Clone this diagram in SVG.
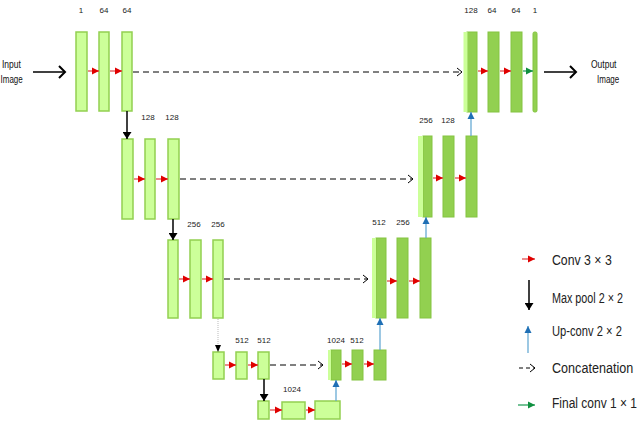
<svg xmlns="http://www.w3.org/2000/svg" width="640" height="425" viewBox="0 0 640 425">
<defs>
<style>
.lt{fill:#ccff99;stroke:#92d050;stroke-width:1.5}
.dk{fill:#92d050;stroke:#84c440;stroke-width:1}
.ls{fill:#ccff99;stroke:none}
.lb{font-family:"Liberation Sans",Arial,sans-serif;font-size:8px;fill:#222;text-anchor:middle}
.io{font-family:"Liberation Sans",Arial,sans-serif;font-size:10px;fill:#111}
.lg{font-family:"Liberation Sans",Arial,sans-serif;font-size:15px;fill:#222}
.red{stroke:#e04040;stroke-width:1.2;fill:none}
.blk{stroke:#000;stroke-width:1.5;fill:none}
.blu{stroke:#5ba3d0;stroke-width:1.2;fill:none}
.grn{stroke:#1a9a50;stroke-width:1.2;fill:none}
.dsh{stroke:#000;stroke-width:1;stroke-dasharray:6,4;fill:none}
</style>
<marker id="mr" markerUnits="userSpaceOnUse" markerWidth="8" markerHeight="8" refX="7" refY="4" orient="auto"><path d="M0,0.5 L7,4 L0,7.5 Z" fill="#e00000"/></marker>
<marker id="mk" markerUnits="userSpaceOnUse" markerWidth="8" markerHeight="9" refX="7" refY="4.5" orient="auto"><path d="M0,0 L7,4.5 L0,9 Z" fill="#000"/></marker>
<marker id="mb" markerUnits="userSpaceOnUse" markerWidth="8" markerHeight="8" refX="7" refY="4" orient="auto"><path d="M0,0.5 L7,4 L0,7.5 Z" fill="#1f6fb5"/></marker>
<marker id="mg" markerUnits="userSpaceOnUse" markerWidth="8" markerHeight="8" refX="7" refY="4" orient="auto"><path d="M0,0.5 L7,4 L0,7.5 Z" fill="#109040"/></marker>
<marker id="mc" markerUnits="userSpaceOnUse" markerWidth="8" markerHeight="10" refX="6" refY="5" orient="auto"><path d="M1,1 L6,5 L1,9" fill="none" stroke="#000" stroke-width="1"/></marker>
<marker id="mt" markerUnits="userSpaceOnUse" markerWidth="10" markerHeight="14" refX="8" refY="7" orient="auto"><path d="M2,1 L8,7 L2,13" fill="none" stroke="#000" stroke-width="2"/></marker>
</defs>
<rect width="640" height="425" fill="#fff"/>

<g id="input"><text class="io" transform="translate(2,68) scale(0.85,1)">Input</text><text class="io" transform="translate(0.5,83) scale(0.8,1)">Image</text></g>
<g id="output"><text class="io" transform="translate(591,68) scale(0.85,1)">Output</text><text class="io" transform="translate(597,83) scale(0.8,1)">Image</text></g>

<!-- Level 1 left -->
<g id="L1a"><rect class="lt" x="76" y="32" width="11" height="79"/><text class="lb" x="81" y="13">1</text></g>
<g id="L1b"><rect class="lt" x="99" y="32" width="10" height="79"/><text class="lb" x="104" y="13">64</text></g>
<g id="L1c"><rect class="lt" x="122" y="32" width="10" height="79"/><text class="lb" x="127" y="13">64</text></g>
<!-- Level 1 right -->
<g id="R1a"><rect class="dk" x="467" y="32" width="10" height="80"/><rect class="ls" x="463.5" y="32" width="4" height="80"/><text class="lb" x="471" y="13">128</text></g>
<g id="R1b"><rect class="dk" x="488" y="32" width="11" height="80"/><text class="lb" x="492" y="13">64</text></g>
<g id="R1c"><rect class="dk" x="511" y="32" width="11" height="80"/><text class="lb" x="516" y="13">64</text></g>
<g id="R1d"><rect class="dk" x="533" y="32" width="4" height="80" rx="1.5"/><text class="lb" x="535" y="13">1</text></g>

<!-- Level 2 -->
<g id="L2a"><rect class="lt" x="122" y="139" width="11" height="80"/></g>
<g id="L2b"><rect class="lt" x="145" y="139" width="10" height="80"/><text class="lb" x="148" y="120">128</text></g>
<g id="L2c"><rect class="lt" x="168" y="139" width="11" height="80"/><text class="lb" x="172" y="120">128</text></g>
<g id="R2a"><rect class="dk" x="423" y="136" width="9" height="81"/><rect class="ls" x="418" y="136" width="5" height="81"/><text class="lb" x="426" y="123">256</text></g>
<g id="R2b"><rect class="dk" x="443" y="136" width="11" height="81"/><text class="lb" x="448" y="123">128</text></g>
<g id="R2c"><rect class="dk" x="466" y="136" width="11" height="81"/></g>

<!-- Level 3 -->
<g id="L3a"><rect class="lt" x="168" y="240" width="10" height="78"/></g>
<g id="L3b"><rect class="lt" x="190" y="240" width="11" height="78"/><text class="lb" x="194" y="227">256</text></g>
<g id="L3c"><rect class="lt" x="213" y="240" width="10" height="78"/><text class="lb" x="218" y="227">256</text></g>
<g id="R3a"><rect class="dk" x="376" y="238" width="10" height="80"/><rect class="ls" x="372" y="238" width="4" height="80"/><text class="lb" x="379" y="225">512</text></g>
<g id="R3b"><rect class="dk" x="397" y="238" width="11" height="80"/><text class="lb" x="403" y="225">256</text></g>
<g id="R3c"><rect class="dk" x="420" y="238" width="11" height="80"/></g>

<!-- Level 4 -->
<g id="L4a"><rect class="lt" x="213" y="352" width="11" height="27"/></g>
<g id="L4b"><rect class="lt" x="236" y="352" width="11" height="27"/><text class="lb" x="242" y="343">512</text></g>
<g id="L4c"><rect class="lt" x="258" y="352" width="11" height="27"/><text class="lb" x="264" y="343">512</text></g>
<g id="R4a"><rect class="dk" x="331" y="350" width="10" height="30"/><rect class="ls" x="328" y="350" width="3" height="30"/><text class="lb" x="336" y="343">1024</text></g>
<g id="R4b"><rect class="dk" x="352" y="350" width="11" height="30"/><text class="lb" x="357" y="343">512</text></g>
<g id="R4c"><rect class="dk" x="374" y="350" width="12" height="30"/></g>

<!-- Level 5 -->
<g id="B1"><rect class="lt" x="258" y="401" width="11" height="18"/></g>
<g id="B2"><rect class="lt" x="282" y="402" width="23" height="17"/><text class="lb" x="292" y="392">1024</text></g>
<g id="B3"><rect class="lt" x="315" y="401" width="25" height="18"/></g>

<g id="connectors">
<line class="blk" x1="33" y1="72" x2="65" y2="72" stroke-width="2" marker-end="url(#mt)"/>
<line class="blk" x1="544" y1="72" x2="576" y2="72" stroke-width="2" marker-end="url(#mt)"/>
<line class="red" x1="88" y1="71" x2="99" y2="71" marker-end="url(#mr)"/>
<line class="red" x1="110" y1="71" x2="122" y2="71" marker-end="url(#mr)"/>
<line class="dsh" x1="133" y1="72" x2="462" y2="72" marker-end="url(#mc)"/>
<line class="red" x1="478" y1="71" x2="488" y2="71" marker-end="url(#mr)"/>
<line class="red" x1="500" y1="71" x2="511" y2="71" marker-end="url(#mr)"/>
<line class="grn" x1="523" y1="71" x2="533" y2="71" marker-end="url(#mg)"/>
<line class="blk" x1="127" y1="111" x2="127" y2="139" marker-end="url(#mk)"/>
<line class="red" x1="134" y1="179" x2="145" y2="179" marker-end="url(#mr)"/>
<line class="red" x1="156" y1="179" x2="168" y2="179" marker-end="url(#mr)"/>
<line class="dsh" x1="180" y1="179" x2="413" y2="179" marker-end="url(#mc)"/>
<line class="red" x1="433" y1="178" x2="443" y2="178" marker-end="url(#mr)"/>
<line class="red" x1="455" y1="178" x2="466" y2="178" marker-end="url(#mr)"/>
<line class="blu" x1="471" y1="136" x2="471" y2="112" marker-end="url(#mb)"/>
<line class="blk" x1="173" y1="219" x2="173" y2="240" marker-end="url(#mk)"/>
<line class="red" x1="179" y1="279" x2="190" y2="279" marker-end="url(#mr)"/>
<line class="red" x1="202" y1="279" x2="213" y2="279" marker-end="url(#mr)"/>
<line class="dsh" x1="224" y1="279" x2="368" y2="279" marker-end="url(#mc)"/>
<line class="red" x1="387" y1="281" x2="397" y2="281" marker-end="url(#mr)"/>
<line class="red" x1="409" y1="281" x2="420" y2="281" marker-end="url(#mr)"/>
<line class="blu" x1="426" y1="238" x2="426" y2="217" marker-end="url(#mb)"/>
<line x1="218" y1="319" x2="218" y2="346" stroke="#bbb" stroke-width="1" stroke-dasharray="1,1"/>
<path d="M215,345 L218,352 L221,345 Z" fill="#000"/>
<line class="red" x1="225" y1="365" x2="236" y2="365" marker-end="url(#mr)"/>
<line class="red" x1="248" y1="365" x2="258" y2="365" marker-end="url(#mr)"/>
<line class="dsh" x1="270" y1="365" x2="323" y2="365" stroke-width="1.5" marker-end="url(#mc)"/>
<line class="red" x1="342" y1="364" x2="352" y2="364" marker-end="url(#mr)"/>
<line class="red" x1="364" y1="364" x2="374" y2="364" marker-end="url(#mr)"/>
<line class="blu" x1="380" y1="350" x2="380" y2="318" marker-end="url(#mb)"/>
<line class="blk" x1="264" y1="379" x2="264" y2="401" marker-end="url(#mk)"/>
<line class="red" x1="270" y1="410" x2="282" y2="410" marker-end="url(#mr)"/>
<line class="red" x1="306" y1="410" x2="315" y2="410" marker-end="url(#mr)"/>
<line class="blu" x1="336" y1="401" x2="336" y2="380" marker-end="url(#mb)"/>
</g>

<g id="legend">
<line class="red" x1="522" y1="259" x2="535" y2="259" marker-end="url(#mr)"/>
<text class="lg" transform="translate(552,265) scale(0.82,1)">Conv 3 × 3</text>
<line class="blk" x1="529" y1="280" x2="529" y2="310" marker-end="url(#mk)"/>
<text class="lg" transform="translate(552,303) scale(0.72,1)">Max pool 2 × 2</text>
<line class="blu" x1="528" y1="353" x2="528" y2="326" marker-end="url(#mb)"/>
<text class="lg" transform="translate(552,336) scale(0.745,1)">Up-conv 2 × 2</text>
<line x1="519" y1="368" x2="535" y2="368" stroke="#000" stroke-width="1" stroke-dasharray="4,3" marker-end="url(#mc)"/>
<text class="lg" transform="translate(552,373) scale(0.84,1)">Concatenation</text>
<line class="grn" x1="518" y1="405" x2="535" y2="405" marker-end="url(#mg)"/>
<text class="lg" transform="translate(552,408) scale(0.8,1)">Final conv 1 × 1</text>
</g>
</svg>
